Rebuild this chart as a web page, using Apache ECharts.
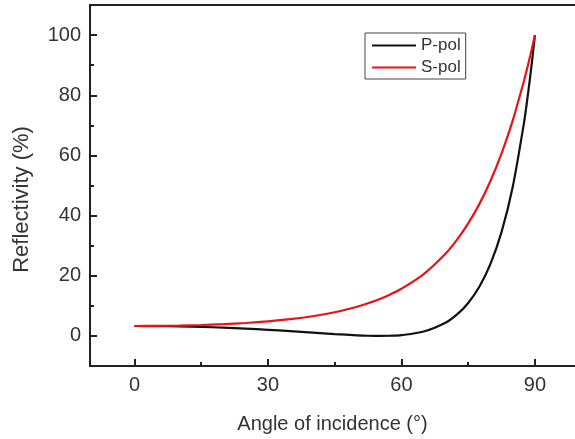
<!DOCTYPE html>
<html>
<head>
<meta charset="utf-8">
<script src="https://cdn.jsdelivr.net/npm/echarts@6/dist/echarts.min.js"></script>
<style>html,body{margin:0;padding:0;background:#fff;}#c{width:575px;height:439px;}</style>
</head>
<body>
<div id="c"></div>
<script>
const angles = [0,5,10,15,20,25,30,35,40,45,50,52.5,55,57.5,60,65,70,72.5,75,77.5,80,82.5,85,87.5,88,89,90];
const pPol =   [3.3,3.26,3.16,2.99,2.74,2.42,2.04,1.59,1.11,0.62,0.21,0.06,0.0,0.05,0.26,1.47,4.49,7.14,10.95,16.35,23.95,34.6,49.5,70.5,75.6,87.0,100];
const sPol =   [3.3,3.34,3.44,3.63,3.91,4.30,4.84,5.57,6.55,7.88,9.70,10.84,12.19,13.79,15.68,20.57,27.51,32.0,37.39,43.81,51.49,60.66,71.59,84.58,87.46,93.52,100];
const xTicks = [0,30,60,90];
const xMinor = [15,45,75];
const yTicks = [0,20,40,60,80,100];
const yMinor = [10,30,50,70,90];
const seriesNames = ['P-pol','S-pol'];

const font = 'Liberation Sans, Arial, sans-serif';
const axisCol = '#222';
const txtCol = '#333';
const lineIcon = 'path://M0,8 L44,8 L44,10 L0,10 Z';

const chart = echarts.init(document.getElementById('c'));
const xRange = {min:-10, max:99};
const yRange = {min:-10, max:110};
chart.setOption({
  animation:false,
  backgroundColor:'#fff',
  grid:{left:90, top:5, bottom:69, right:-3, containLabel:false},
  legend:{
    orient:'vertical', left:365, top:33,
    padding:[4,5,3,7], itemGap:5, itemWidth:44, itemHeight:17,
    borderColor:'#444', borderWidth:1,
    textStyle:{fontFamily:font, fontSize:17, color:txtCol, padding:[0,0,0,0]},
    data:seriesNames.map(n=>({name:n, icon:lineIcon}))
  },
  xAxis:[
    {type:'value', position:'bottom', ...xRange,
     name:'Angle of incidence (°)', nameLocation:'middle', nameGap:48,
     nameTextStyle:{fontFamily:font, fontSize:20, color:txtCol},
     axisLine:{show:true, onZero:false, lineStyle:{color:axisCol, width:2}},
     axisTick:{show:true, inside:true, length:7, customValues:xTicks, lineStyle:{color:axisCol, width:2}},
     axisLabel:{show:true, customValues:xTicks, margin:9, fontFamily:font, fontSize:20, color:txtCol},
     splitLine:{show:false}},
    {type:'value', position:'bottom', ...xRange,
     axisLine:{show:false, onZero:false},
     axisTick:{show:true, inside:true, length:4, customValues:xMinor, lineStyle:{color:axisCol, width:2}},
     axisLabel:{show:false}, splitLine:{show:false}},
    {type:'value', position:'top', ...xRange,
     axisLine:{show:true, onZero:false, lineStyle:{color:axisCol, width:2}},
     axisTick:{show:false}, axisLabel:{show:false}, splitLine:{show:false}}
  ],
  yAxis:[
    {type:'value', position:'left', ...yRange,
     name:'Reflectivity (%)', nameLocation:'middle', nameGap:57,
     nameTextStyle:{fontFamily:font, fontSize:22, color:txtCol, padding:[0,28,0,0]},
     axisLine:{show:true, onZero:false, lineStyle:{color:axisCol, width:2}},
     axisTick:{show:true, inside:true, length:7, customValues:yTicks, lineStyle:{color:axisCol, width:2}},
     axisLabel:{show:true, customValues:yTicks, margin:9, fontFamily:font, fontSize:20, color:txtCol},
     splitLine:{show:false}},
    {type:'value', position:'left', ...yRange,
     axisLine:{show:false, onZero:false},
     axisTick:{show:true, inside:true, length:4, customValues:yMinor, lineStyle:{color:axisCol, width:2}},
     axisLabel:{show:false}, splitLine:{show:false}}
  ],
  series:[
    {name:seriesNames[0], type:'line', xAxisIndex:0, yAxisIndex:0, smooth:0.3, symbol:'none',
     lineStyle:{color:'#111', width:2.2}, itemStyle:{color:'#111'},
     data:angles.map((a,i)=>[a,pPol[i]])},
    {name:seriesNames[1], type:'line', xAxisIndex:0, yAxisIndex:0, smooth:0.3, symbol:'none',
     lineStyle:{color:'#e81218', width:2.2}, itemStyle:{color:'#e81218'},
     data:angles.map((a,i)=>[a,sPol[i]])}
  ]
});
</script>
</body>
</html>
